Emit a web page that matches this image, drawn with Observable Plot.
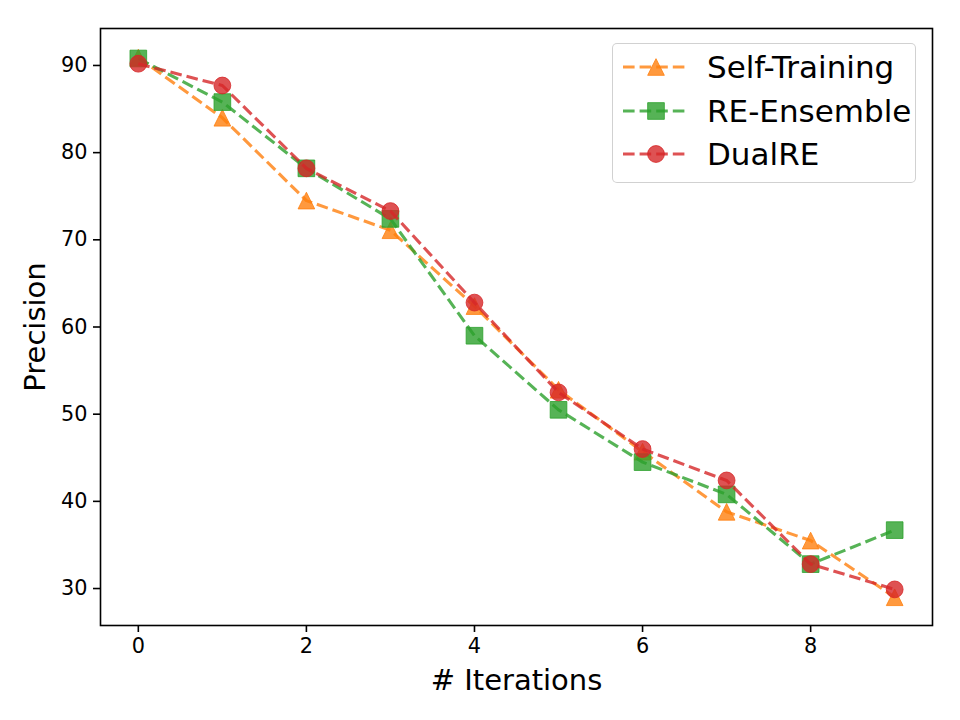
<!DOCTYPE html>
<html>
<head>
<meta charset="utf-8">
<script src="https://cdn.jsdelivr.net/npm/d3@7"></script>
<script src="https://cdn.jsdelivr.net/npm/@observablehq/plot@0.6"></script>
<style>
  html, body { margin: 0; padding: 0; background: #fff; }
  #wrap { position: relative; width: 960px; height: 720px; font-family: "DejaVu Sans", sans-serif; }
  #legend { position: absolute; left: 612px; top: 43px; width: 302px; height: 138px;
    border: 1.5px solid rgba(204,204,204,0.9); border-radius: 5px; background: rgba(255,255,255,0.8); box-sizing: content-box; }
  .row { position: absolute; left: 0; height: 40px; display: flex; align-items: center; }
  .row svg { margin-left: 8px; }
  .row span { margin-left: 16px; font-size: 31px; color: #000; white-space: nowrap; }
</style>
</head>
<body>
<div id="wrap"></div>
<script>
const iterations   = [0, 1, 2, 3, 4, 5, 6, 7, 8, 9];
const selfTraining = [90.9, 84.0, 74.5, 71.1, 62.4, 52.8, 45.7, 38.8, 35.5, 29.0];
const reEnsemble   = [90.8, 85.8, 78.2, 72.4, 59.0, 50.5, 44.5, 40.8, 32.8, 36.7];
const dualRE       = [90.2, 87.7, 78.2, 73.3, 62.8, 52.5, 46.0, 42.4, 32.8, 29.9];
const seriesNames   = ["Self-Training", "RE-Ensemble", "DualRE"];
const seriesValues  = [selfTraining, reEnsemble, dualRE];
const seriesColors  = ["#ff7f0e", "#2ca02c", "#d62728"];
const xTicks = [0, 2, 4, 6, 8];
const yTicks = [30, 40, 50, 60, 70, 80, 90];

// matplotlib-like '^' triangle (apex up, centred on half height)
const mplTriangle = {
  draw(ctx, size) {
    const h = Math.sqrt(size) / 2;
    ctx.moveTo(0, -h); ctx.lineTo(h, h); ctx.lineTo(-h, h); ctx.closePath();
  }
};
const seriesSymbols = [mplTriangle, d3.symbolSquare, d3.symbolCircle];
const seriesR = [9.4, 9.4, 8.4];

const marks = [];
seriesValues.forEach((vals, i) => {
  const data = iterations.map((x, j) => ({x, y: vals[j]}));
  marks.push(Plot.line(data, {x: "x", y: "y", stroke: seriesColors[i], strokeWidth: 3.1,
    strokeDasharray: "11.6,5", strokeOpacity: 0.8, strokeLinecap: "butt"}));
  marks.push(Plot.dot(data, {x: "x", y: "y", symbol: seriesSymbols[i], r: seriesR[i],
    fill: seriesColors[i], fillOpacity: 0.8, stroke: seriesColors[i], strokeOpacity: 0.8, strokeWidth: 1}));
});

const chart = Plot.plot({
  width: 960, height: 720,
  marginLeft: 100, marginRight: 28, marginTop: 28, marginBottom: 95,
  style: {fontFamily: "DejaVu Sans, sans-serif", color: "#000", background: "#fff", overflow: "visible"},
  x: {domain: [-0.45, 9.45]},
  y: {domain: [25.76, 94.24]},
  marks: [
    Plot.axisX({ticks: xTicks, tickSize: 7, tickPadding: 6, fontSize: 20.8, label: null, strokeWidth: 1.6}),
    Plot.axisY({ticks: yTicks, tickSize: 7, tickPadding: 6, fontSize: 20.8, label: null, strokeWidth: 1.6}),
    ...marks,
    Plot.frame({stroke: "#000", strokeWidth: 1.6}),
    Plot.text(["# Iterations"], {frameAnchor: "bottom", dy: 64, fontSize: 29, fill: "#000"}),
    Plot.text(["Precision"], {frameAnchor: "left", dx: -65, rotate: -90, textAnchor: "middle", fontSize: 29, fill: "#000"})
  ]
});

const wrap = document.getElementById("wrap");
wrap.appendChild(chart);

const legend = document.createElement("div");
legend.id = "legend";
seriesNames.forEach((name, i) => {
  const row = document.createElement("div");
  row.className = "row";
  row.style.top = (3 + i * 43.5) + "px";
  const svg = d3.create("svg").attr("width", 70).attr("height", 30);
  svg.append("line").attr("x1", 2).attr("x2", 68).attr("y1", 15).attr("y2", 15)
    .attr("stroke", seriesColors[i]).attr("stroke-width", 3.1).attr("stroke-dasharray", "11.6,5")
    .attr("stroke-opacity", 0.8);
  svg.append("path").attr("transform", "translate(35,15)")
    .attr("d", d3.symbol(seriesSymbols[i], Math.PI * seriesR[i] * seriesR[i])())
    .attr("fill", seriesColors[i]).attr("fill-opacity", 0.8)
    .attr("stroke", seriesColors[i]).attr("stroke-opacity", 0.8);
  row.appendChild(svg.node());
  const span = document.createElement("span");
  span.textContent = name;
  row.appendChild(span);
  legend.appendChild(row);
});
wrap.appendChild(legend);
</script>
</body>
</html>
